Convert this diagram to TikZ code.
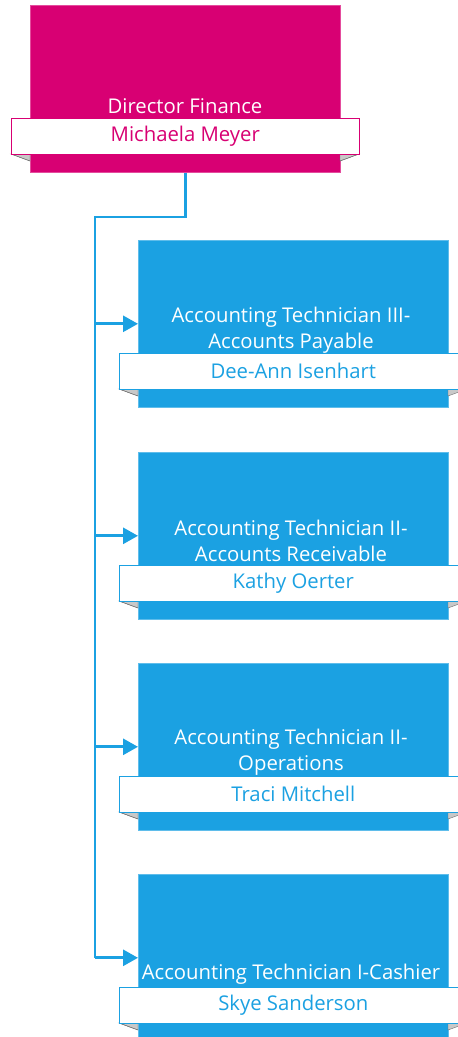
\documentclass[tikz,border=0pt]{standalone}
\usepackage{fontspec}
\setmainfont{Open Sans}
\usetikzlibrary{arrows.meta}
\definecolor{mag}{HTML}{D80073}
\definecolor{cyn}{HTML}{1BA1E2}
\definecolor{tailgray}{HTML}{C8C8C8}
\definecolor{taildark}{HTML}{707070}
\begin{document}
\begin{tikzpicture}[x=1pt,y=-1pt,
  box/.style={rectangle, fill=#1, draw=#1!70!white, line width=0.6pt, minimum width=310pt, minimum height=167pt, anchor=north west, inner sep=0pt},
  ribbon/.style={rectangle, fill=white, draw=#1, line width=0.6pt, minimum width=348pt, minimum height=36pt, anchor=north west, inner sep=0pt, text=#1, font=\fontsize{20.3}{26}\selectfont},
  title/.style={text=white, font=\fontsize{20.3}{26}\selectfont, align=center, inner sep=0pt},
  tail/.style={fill=tailgray, draw=taildark, line width=0.4pt},
  link/.style={draw=cyn, line width=2.8pt},
  arr/.style={link, -{Triangle[length=15pt,width=16pt]}}
]
\clip (0,0) rectangle (458,1037);
\useasboundingbox (0,0) rectangle (458,1037);
\fill[white] (0,0) rectangle (458,1037);
% top
\node[box=mag] (b0) at (30,5) {};
\fill[tail] (11,154) -- (30,154) -- (30,161) -- cycle;
\fill[tail] (359,154) -- (340,154) -- (340,161) -- cycle;
\draw[taildark,line width=0.4pt] (11,154) -- (30,161);
\draw[taildark,line width=0.4pt] (359,154) -- (340,161);
\node[ribbon=mag] (r0) at (11,118) {Michaela Meyer};
\node[title] (t0) at (185,106) {Director Finance};
% children
\foreach \i/\top/\nm in {
  1/240/{Dee-Ann Isenhart},
  2/452/{Kathy Oerter},
  3/663/{Traci Mitchell},
  4/874/{Skye Sanderson}}{
  \node[box=cyn] (c\i) at (138,\top) {};
  \fill[tail] (119,\top+149) -- (138,\top+149) -- (138,\top+156) -- cycle;
  \draw[taildark,line width=0.4pt] (119,\top+149) -- (138,\top+156);
  \fill[tail] (467,\top+149) -- (448,\top+149) -- (448,\top+156) -- cycle;
  \node[ribbon=cyn] (n\i) at (119,\top+113) {\nm};
}
\node[title] (t1) at (291,330) {Accounting Technician III-\\Accounts Payable};
\node[title] (t2) at (291,541) {Accounting Technician II-\\Accounts Receivable};
\node[title] (t3) at (291,752) {Accounting Technician II-\\Operations};
\node[title] (t4) at (291,974) {Accounting Technician I-Cashier};
% connectors
\coordinate (j) at (95,217);
\draw[link] (b0.south) -- (b0.south |- j) -- (j) -- (j |- c4.west);
\foreach \i in {1,2,3,4}{
  \draw[arr] (j |- c\i.west) -- (c\i.west);
}
\end{tikzpicture}
\end{document}
